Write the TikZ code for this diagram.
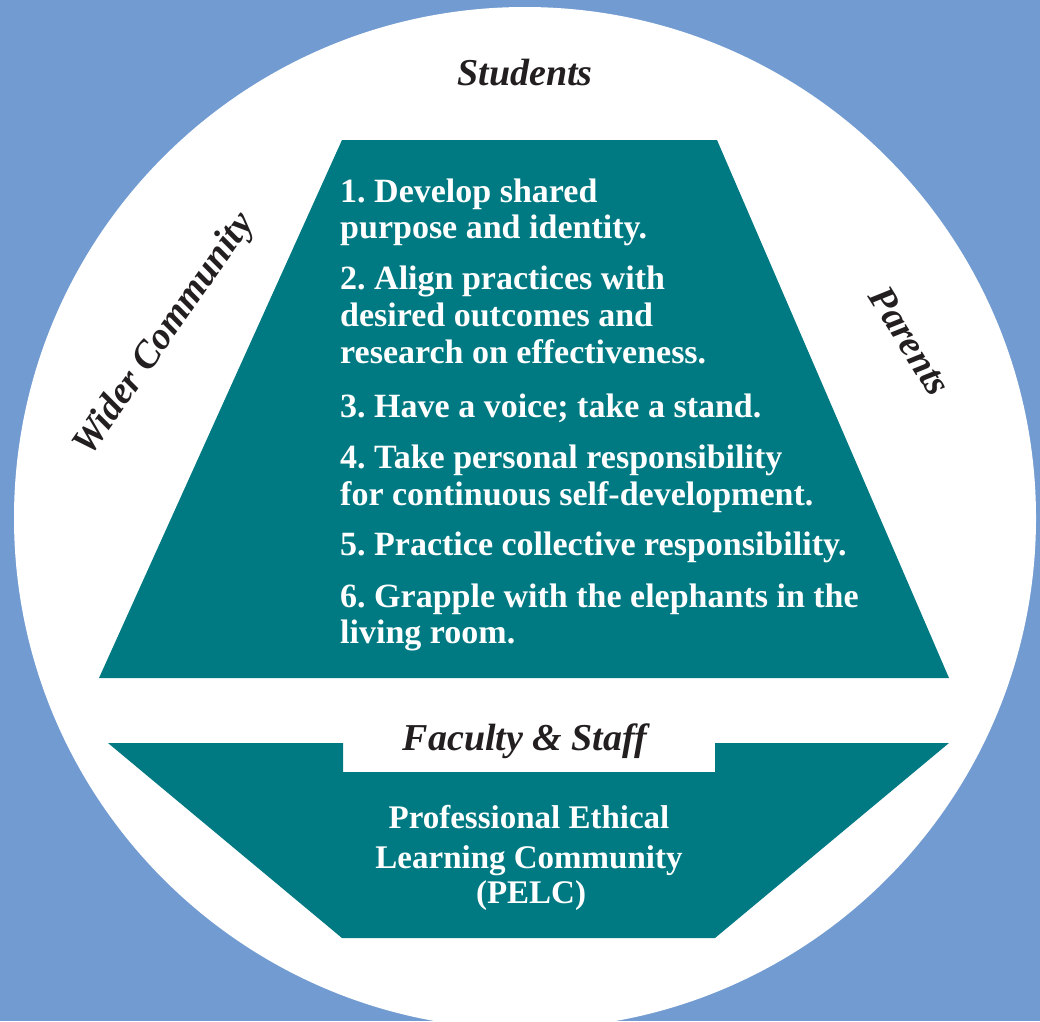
\documentclass[tikz,border=0pt]{standalone}
\usepackage{fontspec}
\setmainfont{Liberation Serif}
\frenchspacing
\definecolor{bgblue}{RGB}{114,156,209}
\definecolor{pelcteal}{RGB}{0,122,130}
\definecolor{inkblack}{RGB}{35,31,32}
\begin{document}
\begin{tikzpicture}[x=1pt,y=-1pt,
  item/.style={anchor=base west, inner sep=0pt, text=white, font=\frenchspacing\bfseries\fontsize{34}{37}\selectfont},
  ring/.style={anchor=base, inner sep=0pt, text=inkblack, font=\bfseries\itshape\fontsize{38}{42}\selectfont},
  pelc/.style={anchor=base, inner sep=0pt, text=white, font=\bfseries\fontsize{33}{37}\selectfont}]
\useasboundingbox (0,0) rectangle (1040,1021);
\fill[bgblue] (0,0) rectangle (1040,1021);
\begin{scope}
  \clip (0,0) rectangle (1040,1021);
  \fill[white] (525,518) circle[radius=511pt];
\end{scope}
% upper trapezoid
\fill[pelcteal] (342,140) -- (717,140) -- (949,678) -- (99,678) -- cycle;
% lower notched shape
\fill[pelcteal] (108,743) -- (343,743) -- (343,772) -- (715,772) -- (715,743)
  -- (949,743) -- (715,938) -- (342,938) -- cycle;
% ring labels
\node[ring] (students) at (525,85) {Students};
\node[ring] (faculty) at (525,750) {Faculty \& Staff};
\node[ring, anchor=center, rotate=55] (wider) at (165,335) {Wider Community};
\node[ring, anchor=center, rotate=-58] (parents) at (910,341) {Parents};
% list items
\node[item] (i1a) at (340,202) {1. Develop shared};
\node[item] (i1b) at (340,238) {purpose and identity.};
\node[item] (i2a) at (340,289) {2. Align practices with};
\node[item] (i2b) at (340,326) {desired outcomes and};
\node[item] (i2c) at (340,363) {research on effectiveness.};
\node[item] (i3a) at (340,417) {3. Have a voice; take a stand.};
\node[item] (i4a) at (340,468) {4. Take personal responsibility};
\node[item] (i4b) at (340,505) {for continuous self-development.};
\node[item] (i5a) at (340,555) {5. Practice collective responsibility.};
\node[item] (i6a) at (340,607) {6. Grapple with the elephants in the};
\node[item] (i6b) at (340,643) {living room.};
% PELC
\node[pelc] (p1) at (529,828) {Professional Ethical};
\node[pelc] (p2) at (529,868) {Learning Community};
\node[pelc] (p3) at (531,903) {(PELC)};
\end{tikzpicture}
\end{document}
